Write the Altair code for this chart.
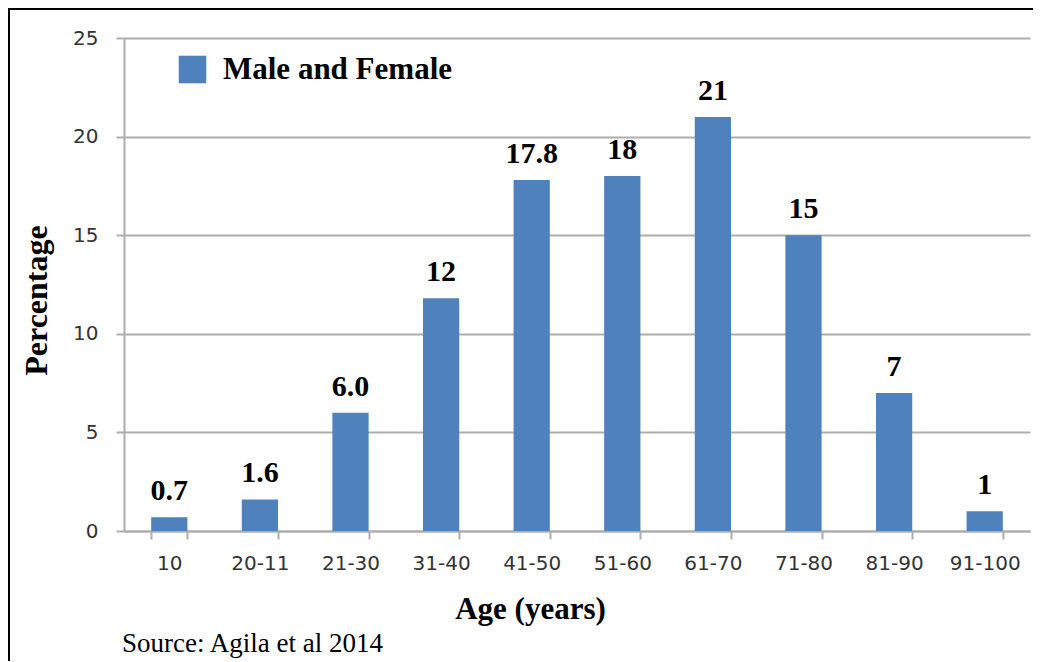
import altair as alt
import pandas as pd

categories = ["10", "20-11", "21-30", "31-40", "41-50", "51-60", "61-70", "71-80", "81-90", "91-100"]
values = [0.7, 1.6, 6.0, 11.8, 17.8, 18.0, 21.0, 15.0, 7.0, 1.0]
labels = ["0.7", "1.6", "6.0", "12", "17.8", "18", "21", "15", "7", "1"]
series_name = "Male and Female"
y_ticks = [0, 5, 10, 15, 20, 25]
x_title = "Age (years)"
y_title = "Percentage"
source_text = "Source: Agila et al 2014"

df = pd.DataFrame({"age": categories, "pct": values, "label": labels, "series": series_name})

W, H = 906, 493
PAD_L, PAD_T, PAD_R, PAD_B = 116, 30, 3, 130
SERIF = "Liberation Serif"
SANS = "DejaVu Sans"
GRID = "#ADADAD"

xenc = alt.X(
    "age:N",
    sort=categories,
    scale=alt.Scale(paddingInner=0.6, paddingOuter=0.3),
    axis=alt.Axis(
        title=x_title, labelAngle=0, tickBand="extent", tickSize=8, tickColor=GRID,
        tickWidth=2, domainColor=GRID, domainWidth=2, labelFont=SANS, labelFontSize=20,
        labelColor="#333333", labelPadding=14, titleFont=SERIF, titleFontSize=31,
        titleFontWeight="bold", titleColor="black", titleX=406, titleY=87,
        titleAlign="center", titleBaseline="alphabetic", grid=False,
    ),
)
yenc = alt.Y(
    "pct:Q",
    scale=alt.Scale(domain=[0, 25], nice=False),
    axis=alt.Axis(
        title=y_title, values=y_ticks, grid=True, gridColor=GRID, gridWidth=2,
        tickSize=8, tickColor=GRID, tickWidth=2, domainColor=GRID, domainWidth=2,
        labelFont=SANS, labelFontSize=20, labelColor="#333333", labelPadding=18,
        titleFont=SERIF, titleFontSize=32, titleFontWeight="bold", titleColor="black",
        titleX=-88, titleY=262, titleAlign="center", titleBaseline="middle", titleAngle=270,
    ),
)

bars = alt.Chart(df).mark_bar(color="#4F81BD").encode(
    x=xenc,
    y=yenc,
    color=alt.Color(
        "series:N",
        scale=alt.Scale(range=["#4F81BD"]),
        legend=alt.Legend(
            title=None, orient="none", legendX=53, legendY=16, symbolType="square",
            symbolSize=760, symbolStrokeWidth=0, labelFont=SERIF, labelFontSize=31,
            labelFontWeight="bold", labelColor="black", labelOffset=15, labelLimit=500,
            padding=0,
        ),
    ),
)

text = alt.Chart(df).mark_text(
    font=SERIF, fontSize=30, fontWeight="bold", color="black",
    baseline="alphabetic", dy=-17,
).encode(x=alt.X("age:N", sort=categories), y="pct:Q", text="label:N")

frame_df = pd.DataFrame({"k": [0]})
frame_top = alt.Chart(frame_df).mark_rule(stroke="black", strokeWidth=2).encode(
    x=alt.value(-115), x2=alt.value(W + PAD_R), y=alt.value(-29)
)
frame_left = alt.Chart(frame_df).mark_rule(stroke="black", strokeWidth=2).encode(
    x=alt.value(-115), y=alt.value(-30), y2=alt.value(H + PAD_B)
)

source = alt.Chart(frame_df).mark_text(
    text=source_text, font=SERIF, fontSize=27, align="left", baseline="alphabetic", color="black"
).encode(x=alt.value(-2), y=alt.value(614))

chart = alt.layer(bars, text, frame_top, frame_left, source).properties(
    width=W, height=H,
    autosize=alt.AutoSizeParams(type="none"),
    padding={"left": PAD_L, "top": PAD_T, "right": PAD_R, "bottom": PAD_B},
).configure_view(stroke=None)

chart.save("out.html", embed_options={"renderer": "svg", "actions": False})
